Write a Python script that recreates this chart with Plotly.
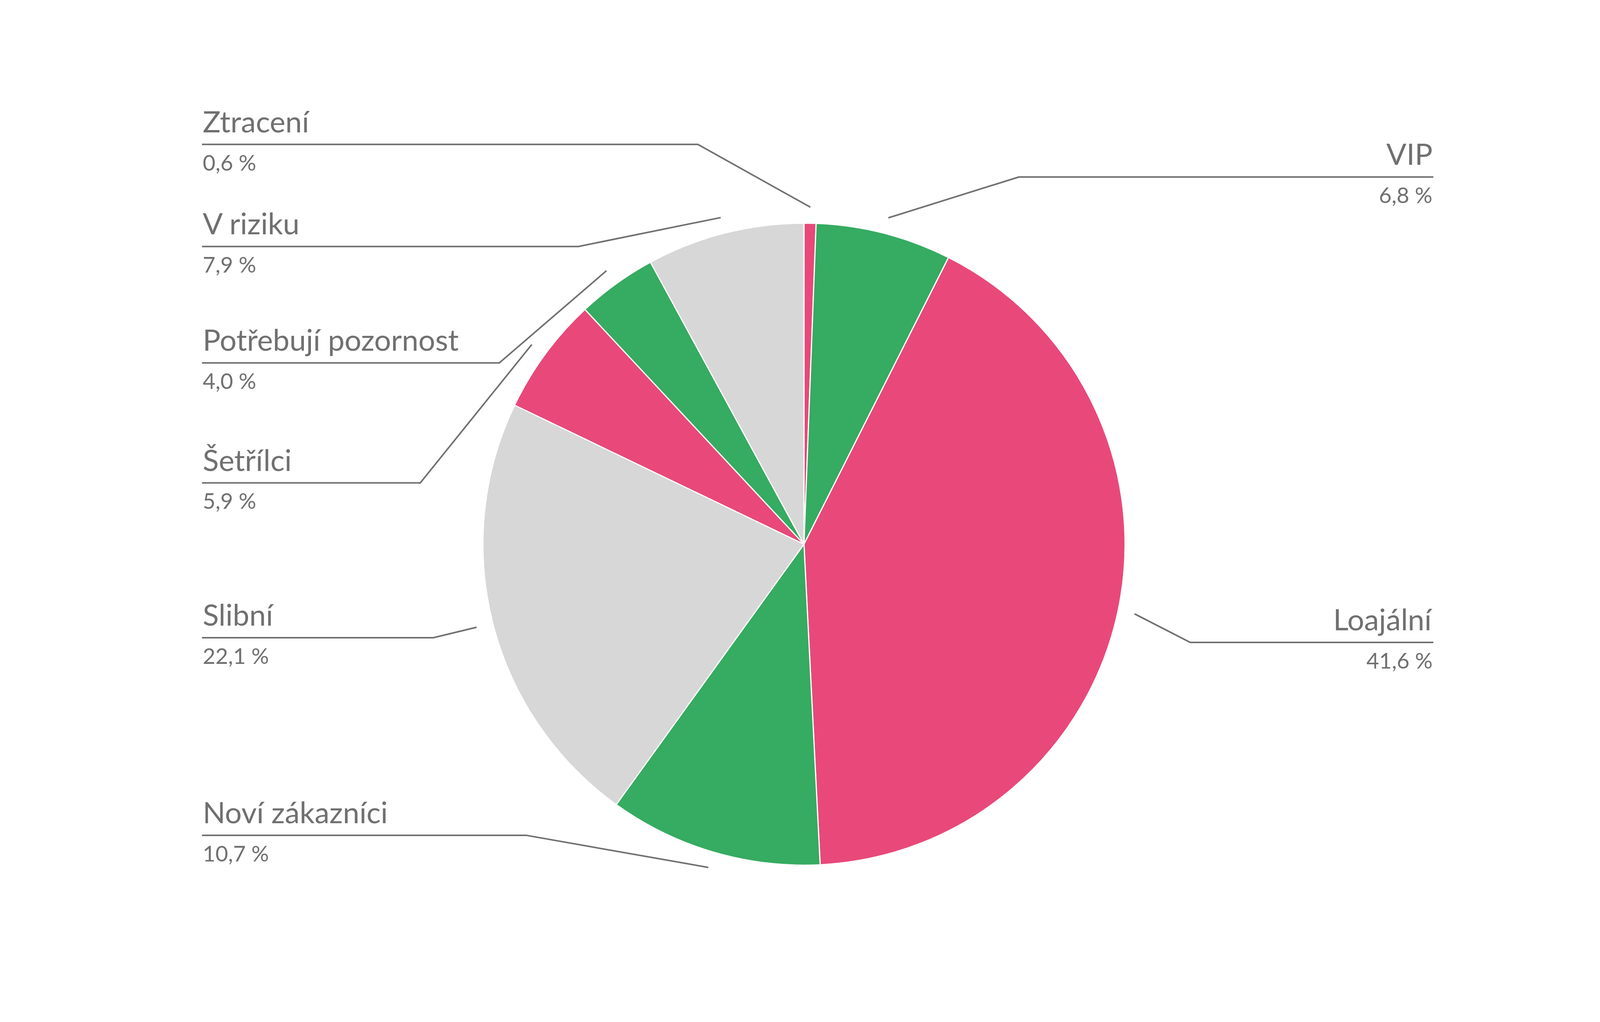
import math
import plotly.graph_objects as go

# segment data (clockwise from 12 o'clock)
segments = ["Ztracení", "VIP", "Loajální", "Noví zákazníci", "Slibní",
            "Šetřílci", "Potřebují pozornost", "V riziku"]
shares = [0.6, 6.8, 41.6, 10.7, 22.1, 5.9, 4.0, 7.9]
share_labels = ["0,6 %", "6,8 %", "41,6 %", "10,7 %", "22,1 %", "5,9 %", "4,0 %", "7,9 %"]

PINK = "#E8497A"
GREEN = "#36AB62"
GREY = "#D7D7D7"
slice_colors = [PINK, GREEN, PINK, GREEN, GREY, PINK, GREEN, GREY]

# label layout, in pixels of the 5001x2617 design: side, underline y, elbow x
label_side = ["left", "right", "right", "left", "left", "left", "left", "left"]
label_line_y = [364, 448, 1647, 2144, 1635, 1236, 927, 627]
label_elbow_x = [2180, 3187, 3725, 1641, 1350, 1309, 1557, 1805]

W, H = 5001, 2617          # design size
VIEW_W = 4096              # width the page really gets in the browser
cx, cy, R = 2513, 1394, 827
left_x, right_x = 624, 4488
text_col = "#707070"
font = "Lato"


def px(x):
    return x / W


def py(y):
    return 1 - y / H


# pie radius is set by the domain height; the domain is kept wide so the
# width never limits it
fig = go.Figure(go.Pie(
    labels=segments,
    values=shares,
    sort=False,
    direction="clockwise",
    rotation=0,
    textinfo="none",
    hoverinfo="label+percent",
    marker=dict(colors=slice_colors, line=dict(color="white", width=3)),
    domain=dict(x=[px(cx) - 0.25, px(cx) + 0.25], y=[py(cy + R), py(cy - R)]),
    showlegend=False,
))

total = sum(shares)
cum = 0
shapes = []
annotations = []
for i, name in enumerate(segments):
    mid = (cum + shares[i] / 2) / total * 2 * math.pi
    cum += shares[i]
    # start of the leader just outside the slice
    sx = px(cx) + 1.05 * R * math.sin(mid) / VIEW_W
    sy = py(cy) + 1.05 * R * math.cos(mid) / H
    ly = label_line_y[i]
    ex = label_elbow_x[i]
    endx = left_x if label_side[i] == "left" else right_x
    path = "M {},{} L {},{} L {},{}".format(sx, sy, px(ex), py(ly), px(endx), py(ly))
    shapes.append(dict(type="path", xref="paper", yref="paper", path=path,
                       line=dict(color=text_col, width=4)))
    anchor = "left" if label_side[i] == "left" else "right"
    annotations.append(dict(
        x=px(endx), y=py(ly - 13), xref="paper", yref="paper",
        xanchor=anchor, yanchor="bottom", showarrow=False, text=name,
        font=dict(family=font, size=76, color=text_col)))
    annotations.append(dict(
        x=px(endx), y=py(ly + 10), xref="paper", yref="paper",
        xanchor=anchor, yanchor="top", showarrow=False, text=share_labels[i],
        font=dict(family=font, size=56, color=text_col)))

fig.update_layout(
    autosize=True,
    margin=dict(l=0, r=0, t=0, b=0),
    paper_bgcolor="white",
    plot_bgcolor="white",
    shapes=shapes,
    annotations=annotations,
)

fig.write_html("out.html")
